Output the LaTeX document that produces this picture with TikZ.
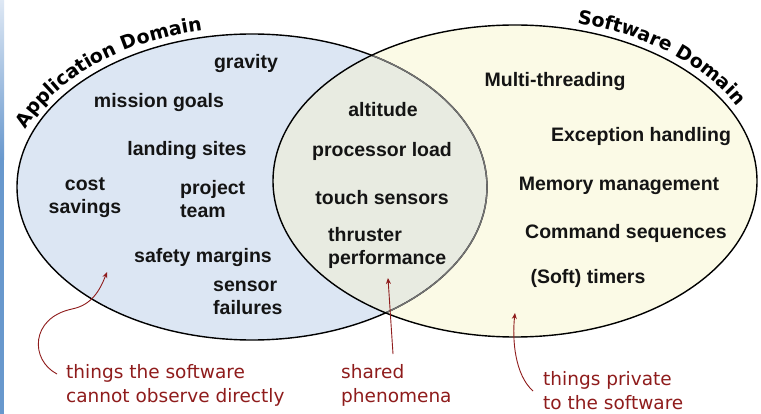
\documentclass[tikz,border=0pt]{standalone}
\usepackage{fontspec}
\setmainfont{Liberation Sans}
\newfontfamily\notefont{DejaVu Sans}
\usetikzlibrary{decorations.text,arrows.meta}
\definecolor{appblue}{RGB}{220,230,243}
\definecolor{swyellow}{RGB}{251,250,230}
\definecolor{sharedgrey}{RGB}{232,235,225}
\definecolor{notered}{RGB}{143,28,28}
\definecolor{edgeblue}{RGB}{104,152,205}
\definecolor{edgelight}{RGB}{222,232,244}
\tikzset{
  item/.style={font=\bfseries\fontsize{19.5}{23}\selectfont, text=black!92, inner sep=0pt},
  stackitem/.style={item, align=left, anchor=north west},
  note/.style={font=\notefont\fontsize{18.5}{24}\selectfont, text=notered, align=left, anchor=north west, inner sep=0pt},
  pointer/.style={draw=notered, line width=0.9pt, -{Stealth[length=6pt,width=5pt]}},
  domaintitle/.style={decorate, decoration={text along path, text align=center,
      text={|\notefont\bfseries\fontsize{19}{21}\selectfont|#1}}}
}
\begin{document}
\begin{tikzpicture}[x=1pt,y=1pt]
  \useasboundingbox (0,0) rectangle (761,-414);
  \fill[white] (0,0) rectangle (761,-414);
  % slide edge strip
  \shade[top color=edgelight, bottom color=edgeblue] (0,0) rectangle (4,-160);
  \fill[edgeblue] (0,-160) rectangle (4,-414);

  % the two domains
  \fill[appblue] (252,-187) ellipse [x radius=235, y radius=153];
  \fill[swyellow] (515,-181) ellipse [x radius=242, y radius=156];
  \begin{scope}
    \clip (252,-187) ellipse [x radius=235, y radius=153];
    \fill[sharedgrey] (515,-181) ellipse [x radius=242, y radius=156];
  \end{scope}
  \draw[line width=1.4pt] (252,-187) ellipse [x radius=235, y radius=153];
  \begin{scope}
    \clip (515,-181) ellipse [x radius=242, y radius=156];
    \draw[line width=1.4pt, black!55] (252,-187) ellipse [x radius=235, y radius=153];
  \end{scope}
  \draw[line width=1.4pt] (515,-181) ellipse [x radius=242, y radius=156];

  % curved domain titles
  \path[domaintitle={Application Domain}]
    (252,-187) ++(170:243 and 160) arc[start angle=170, end angle=94, x radius=243, y radius=160];
  \path[domaintitle={Software Domain}]
    (515,-181) ++(87:250 and 163) arc[start angle=87, end angle=11, x radius=250, y radius=163];

  % application-only phenomena
  \node[item] (gravity) at (246,-64) {gravity};
  \node[item] (goals) at (159,-103) {mission goals};
  \node[item] (sites) at (187,-151) {landing sites};
  \node[item, align=center] (cost) at (85,-198) {cost\\savings};
  \node[stackitem] (team) at (180,-180) {project\\team};
  \node[item] (safety) at (203,-258) {safety margins};
  \node[stackitem] (failures) at (213,-281) {sensor\\failures};

  % shared phenomena
  \node[item] (altitude) at (383,-110) {altitude};
  \node[item] (load) at (382,-151) {processor load};
  \node[item] (touch) at (382,-198) {touch sensors};
  \node[stackitem] (thruster) at (328,-227) {thruster\\performance};

  % software-only phenomena
  \node[item] (threads) at (555,-82) {Multi-threading};
  \node[item] (except) at (641,-137) {Exception handling};
  \node[item] (memory) at (619,-186) {Memory management};
  \node[item] (command) at (626,-233) {Command sequences};
  \node[item] (timers) at (588,-278) {(Soft) timers};

  % annotations
  \node[note] (cannot) at (66,-364) {things the software\\cannot observe directly};
  \node[note] (shared) at (341,-364) {shared\\phenomena};
  \node[note] (private) at (543,-371) {things private\\to the software};

  \coordinate (appspot) at (107,-272);
  \coordinate (sharedspot) at (388,-278);
  \coordinate (swspot) at (515,-313);

  \draw[pointer] ([xshift=-9pt,yshift=-10pt]cannot.north west)
    .. controls (30,-360) and (30,-318) .. (72,-309)
    .. controls (92,-305) and (100,-290) .. (appspot);
  \draw[pointer] ([xshift=52pt,yshift=10pt]shared.north west) -- (sharedspot);
  \draw[pointer] ([xshift=-10pt,yshift=-20pt]private.north west)
    .. controls (515,-375) and (512,-340) .. (swspot);
\end{tikzpicture}
\end{document}
